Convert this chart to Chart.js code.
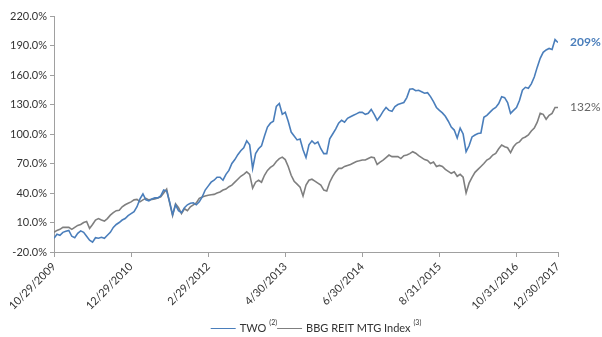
<!DOCTYPE html>
<html>
<head>
<meta charset="utf-8">
<title>TWO vs BBG REIT MTG Index</title>
<script src="https://cdn.jsdelivr.net/npm/chart.js@4.4.1/dist/chart.umd.min.js"></script>
<style>
  html, body { margin: 0; padding: 0; background: #fff; }
  #wrap { width: 602px; height: 337px; }
</style>
</head>
<body>
<div id="wrap"><canvas id="returns-chart"></canvas></div>
<script>
// Cumulative total return in %, one sample per step along the date axis
const twoReturns = [
  -6, -2, -3, 0, 1, 2, -4, -5.5, -1, 1.5,
  0, -4, -8, -10, -5.5, -6, -5, -6, -3, 0,
  5, 8, 10, 12.5, 14, 17, 19, 21, 26, 34,
  39, 33, 32, 34, 35, 35, 37, 43, 42, 31,
  18, 28, 22, 20, 25, 28, 29.5, 30, 28, 31,
  36, 43, 47, 51, 53, 56, 56, 53, 59, 63,
  70, 74, 79, 83, 86, 93, 89, 65, 80, 85,
  88, 98, 107, 111, 113, 128, 131, 120, 122, 113,
  102, 98, 94, 95, 84, 76, 89, 93, 90, 92,
  85, 80, 80, 95, 100, 105, 111, 114, 112, 116,
  117.5, 119, 120.5, 122, 122, 120, 121, 125, 120, 114,
  118, 123, 127, 124, 123, 128, 130, 131, 132, 137,
  145.5, 146, 144, 144.5, 143, 141.5, 142, 138, 133, 127,
  124, 121.5, 118, 113, 107, 104, 96, 106, 100, 82,
  88, 97, 99, 100.5, 101, 117, 119, 122, 125, 127,
  131, 138, 137, 132, 121, 124, 127, 134, 144.5, 147.5,
  146.5, 151, 158, 168, 177, 183, 185.5, 187, 186, 196,
  193
];

const mtgIndexReturns = [
  0, 2, 3, 5, 5, 5, 3, 5, 7, 8,
  10, 11, 4, 8, 12.5, 14, 12.5, 11.5, 14, 17.5,
  20, 22, 22.5, 26, 28, 29.5, 31, 33, 33.5, 31,
  33, 34.5, 33, 33.5, 34, 35, 36, 40, 44, 30,
  17, 29, 25, 19, 24, 22, 26, 28, 30, 34.5,
  36, 37, 37.8, 38.2, 38.6, 40, 41, 43, 44, 46.4,
  48, 51, 54, 57, 59, 61.5, 59, 45, 51, 53,
  51, 58, 63, 66, 68, 72, 75, 76.5, 74, 67,
  58, 52, 49, 46, 37, 48, 53, 54, 52, 50,
  48, 43, 42, 51, 57, 61.5, 65, 65, 67, 68,
  69, 70.5, 72, 72.7, 73.5, 73.5, 75, 76.5, 76, 69,
  71.5, 73.5, 76, 78.6, 77, 77, 77, 75, 78, 78.6,
  80, 82, 80.5, 78, 76, 74, 73, 70, 71.5, 67,
  68, 67, 64, 62, 60, 61.5, 57, 59, 56, 40,
  50, 56, 61, 64, 67, 70, 73.5, 75.2, 78.6, 80.3,
  85, 88.7, 87, 86, 81, 87, 90.5, 92, 95.6, 97,
  99, 103, 106, 112, 121, 120, 115, 119, 121, 127,
  127
];

const seriesNames = ['TWO', 'BBG REIT MTG Index'];
const seriesNotes = ['(2)', '(3)'];
const seriesColors = ['#4a7ebb', '#7f7f7f'];
const endLabels = ['209%', '132%'];

// sample positions that carry a date label
const dateTicks = [0, 26, 52, 78, 104, 130, 156, 170];
const dateLabels = ['10/29/2009', '12/29/2010', '2/29/2012', '4/30/2013',
  '6/30/2014', '8/31/2015', '10/31/2016', '12/30/2017'];

const FONT = 'Lato, "Open Sans", sans-serif';
const AXIS_COLOR = '#a0a0a0';
const TEXT_COLOR = '#333';

const toPoints = arr => arr.map((y, i) => ({ x: i, y: y }));

// writes the closing value next to the end of each line
const endLabelPlugin = {
  id: 'endLabels',
  afterDatasetsDraw(chart) {
    const ctx = chart.ctx;
    const right = chart.chartArea.right;
    chart.data.datasets.forEach((ds, i) => {
      const meta = chart.getDatasetMeta(i);
      const last = meta.data[meta.data.length - 1];
      ctx.save();
      ctx.font = (i === 0 ? 'bold ' : '') + '12px ' + FONT;
      ctx.fillStyle = i === 0 ? seriesColors[0] : '#666';
      ctx.textBaseline = 'middle';
      ctx.fillText(endLabels[i], right + 12, last.y);
      ctx.restore();
    });
  }
};

// legend row under the axis, with the footnote marks set as superscripts
const noteLegendPlugin = {
  id: 'noteLegend',
  afterDraw(chart) {
    const ctx = chart.ctx;
    const y = 328;
    const lineLen = 25;
    const nameFont = '11px ' + FONT;
    const noteFont = '7px ' + FONT;

    ctx.save();
    const widths = chart.data.datasets.map((ds, i) => {
      ctx.font = nameFont;
      const w1 = ctx.measureText(seriesNames[i]).width;
      ctx.font = noteFont;
      const w2 = ctx.measureText(seriesNotes[i]).width;
      return { name: w1, note: w2 };
    });
    const total = widths.reduce((s, w) => s + lineLen + 4 + w.name + 3 + w.note, 0);
    let x = 316 - total / 2;

    chart.data.datasets.forEach((ds, i) => {
      ctx.strokeStyle = ds.borderColor;
      ctx.lineWidth = 1;
      ctx.beginPath();
      ctx.moveTo(x, y + 0.5);
      ctx.lineTo(x + lineLen, y + 0.5);
      ctx.stroke();
      x += lineLen + 4;

      ctx.fillStyle = TEXT_COLOR;
      ctx.textBaseline = 'middle';
      ctx.font = nameFont;
      ctx.fillText(seriesNames[i], x, y);
      x += widths[i].name + 3;

      ctx.font = noteFont;
      ctx.fillText(seriesNotes[i], x, y - 5);
      x += widths[i].note;
    });
    ctx.restore();
  }
};

new Chart(document.getElementById('returns-chart'), {
  type: 'line',
  data: {
    datasets: [
      {
        label: seriesNames[0],
        data: toPoints(twoReturns),
        borderColor: seriesColors[0],
        backgroundColor: seriesColors[0],
        borderWidth: 1.6,
        pointRadius: 0,
        tension: 0
      },
      {
        label: seriesNames[1],
        data: toPoints(mtgIndexReturns),
        borderColor: seriesColors[1],
        backgroundColor: seriesColors[1],
        borderWidth: 1.6,
        pointRadius: 0,
        tension: 0
      }
    ]
  },
  options: {
    responsive: true,
    maintainAspectRatio: false,
    animation: false,
    layout: { padding: { left: 0, right: 44, top: 16, bottom: 18 } },
    plugins: {
      tooltip: { enabled: false },
      legend: { display: false }
    },
    scales: {
      x: {
        type: 'linear',
        min: 0,
        max: dateTicks[dateTicks.length - 1],
        afterBuildTicks: scale => {
          scale.ticks = dateTicks.map(v => ({ value: v }));
        },
        afterFit: scale => { scale.height = 67; },
        grid: { drawOnChartArea: false, drawTicks: true, tickLength: 5, color: AXIS_COLOR },
        border: { color: AXIS_COLOR },
        ticks: {
          autoSkip: false,
          minRotation: 45,
          maxRotation: 45,
          color: TEXT_COLOR,
          font: { family: FONT, size: 11 },
          callback: value => dateLabels[dateTicks.indexOf(value)]
        }
      },
      y: {
        min: -20,
        max: 220,
        afterFit: scale => { scale.width = 54; },
        grid: { drawOnChartArea: false, drawTicks: true, tickLength: 4, color: AXIS_COLOR },
        border: { color: AXIS_COLOR },
        ticks: {
          stepSize: 30,
          color: TEXT_COLOR,
          font: { family: FONT, size: 11 },
          callback: value => value.toFixed(1) + '%'
        }
      }
    }
  },
  plugins: [endLabelPlugin, noteLegendPlugin]
});
</script>
</body>
</html>
